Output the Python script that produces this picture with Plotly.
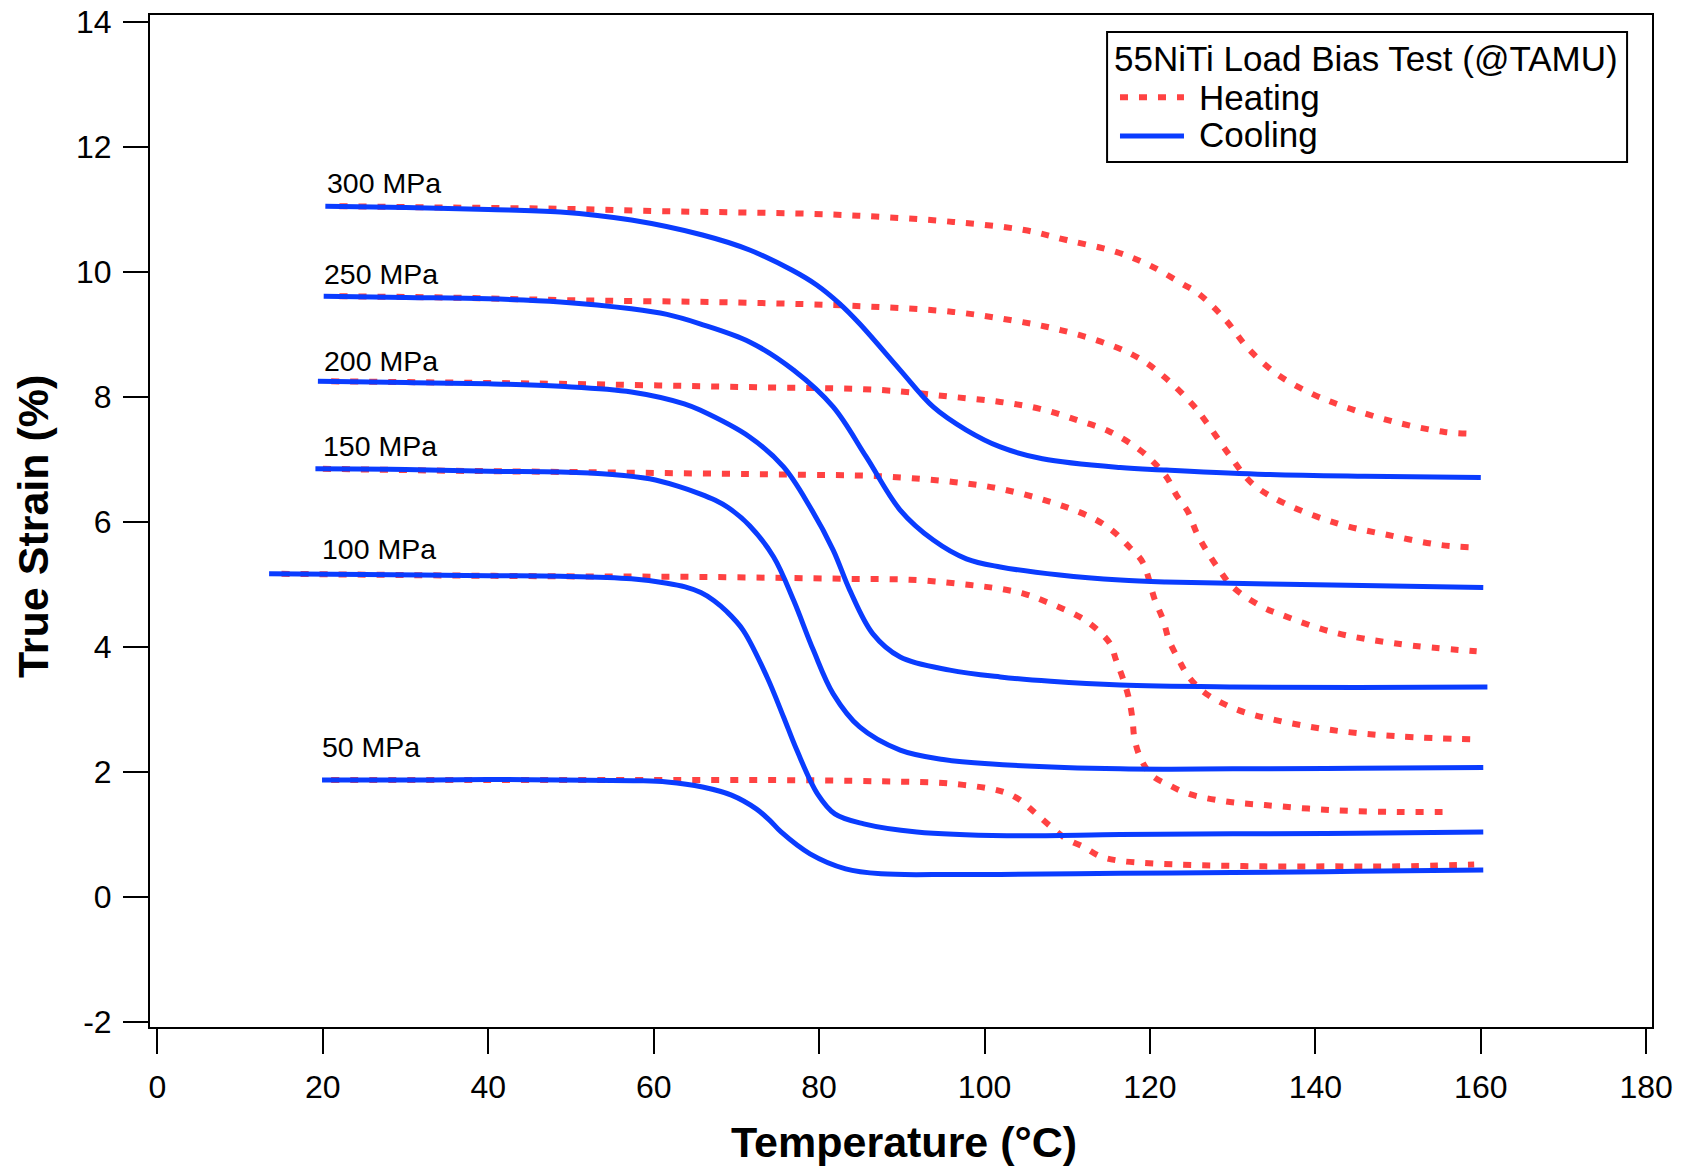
import plotly.graph_objects as go

# ---------------- data ----------------
loads = ["300 MPa", "250 MPa", "200 MPa", "150 MPa", "100 MPa", "50 MPa"]

# Cooling curves (temperature °C, true strain %)
c300_T = [20.3, 30, 40, 48.7, 57.3, 65.9, 71.6, 76.7, 79.7, 82.4, 84.9, 89.8, 93.8, 97.8, 101.9, 107, 116.4, 122, 134, 146, 160]
c300_S = [11.05, 11.03, 11.00, 10.96, 10.83, 10.59, 10.35, 10.03, 9.79, 9.50, 9.17, 8.43, 7.84, 7.47, 7.20, 7.01, 6.87, 6.83, 6.76, 6.73, 6.71]

c250_T = [20.1, 30, 40, 48.7, 57.3, 61.6, 65.6, 71.6, 76.9, 81.7, 85.7, 89.8, 93.8, 97.8, 101.9, 109.1, 116.4, 121.9, 142, 160.3]
c250_S = [9.61, 9.59, 9.57, 9.52, 9.41, 9.32, 9.17, 8.88, 8.43, 7.84, 7.04, 6.19, 5.71, 5.41, 5.28, 5.15, 5.07, 5.04, 4.99, 4.95]

c200_T = [19.4, 30, 40, 48.7, 57.3, 63.7, 65.6, 71.6, 75.7, 78.9, 81.7, 83.7, 86.5, 89.8, 95.8, 101.9, 108, 116.4, 130, 145, 160.8]
c200_S = [8.25, 8.23, 8.21, 8.17, 8.08, 7.89, 7.79, 7.36, 6.88, 6.24, 5.55, 4.91, 4.21, 3.84, 3.63, 3.52, 3.45, 3.39, 3.36, 3.35, 3.36]

c150_T = [19.1, 30, 40, 48.7, 55, 59.5, 63, 65.6, 67.4, 69.0, 71.6, 74.5, 76.9, 79.3, 81.7, 84.9, 89.8, 95, 100.5, 116.4, 130, 145, 160.3]
c150_S = [6.85, 6.84, 6.81, 6.80, 6.76, 6.69, 6.57, 6.45, 6.35, 6.23, 5.94, 5.44, 4.75, 3.95, 3.25, 2.72, 2.35, 2.20, 2.13, 2.05, 2.05, 2.06, 2.07]

c100_T = [13.5, 25, 40, 48.7, 57.3, 61.6, 63.8, 65.7, 67.3, 68.8, 70.8, 73.7, 75.7, 77.3, 79.8, 81.9, 85.4, 91.8, 102.7, 116.4, 130, 145, 160.3]
c100_S = [5.17, 5.16, 5.14, 5.13, 5.09, 5.02, 4.96, 4.87, 4.74, 4.57, 4.27, 3.52, 2.88, 2.35, 1.65, 1.33, 1.17, 1.04, 0.98, 1.00, 1.01, 1.02, 1.04]

c50_T = [19.9, 30, 40, 48.7, 58, 61.6, 65.9, 69.4, 72.4, 74.0, 75.4, 78.9, 83.2, 87.5, 96.2, 101.9, 116.4, 130, 145, 160.3]
c50_S = [1.87, 1.87, 1.88, 1.87, 1.86, 1.84, 1.76, 1.63, 1.41, 1.23, 1.04, 0.69, 0.45, 0.37, 0.36, 0.36, 0.38, 0.39, 0.41, 0.43]

# Heating curves
h300_T = [22, 35, 48.7, 61.6, 78.9, 87.5, 96.2, 104.8, 109.9, 115.9, 119.9, 123.9, 125.9, 129.1, 131.9, 135.5, 139.6, 143.6, 149.6, 155.6, 159.4]
h300_S = [11.05, 11.03, 11.01, 10.97, 10.93, 10.88, 10.80, 10.67, 10.51, 10.32, 10.11, 9.81, 9.65, 9.24, 8.77, 8.35, 8.05, 7.84, 7.60, 7.44, 7.41]

h250_T = [22, 35, 48.7, 70.3, 85.4, 96.2, 103.1, 109.2, 115.2, 118.8, 122.0, 125.2, 126.8, 129.6, 132.4, 136.4, 142.8, 148.8, 155.2, 159.8]
h250_S = [9.61, 9.59, 9.55, 9.51, 9.45, 9.36, 9.23, 9.07, 8.83, 8.61, 8.29, 7.87, 7.60, 7.07, 6.61, 6.29, 5.97, 5.79, 5.63, 5.59]

h200_T = [21, 35, 48.7, 70.3, 87.5, 96.2, 101.9, 106.7, 111.2, 115.2, 118.8, 120.4, 122.0, 123.2, 124.6, 125.6, 126.8, 128.4, 130.0, 133.6, 136, 142, 150, 159.5]
h200_S = [8.25, 8.23, 8.21, 8.16, 8.11, 8.00, 7.92, 7.81, 7.63, 7.44, 7.15, 6.96, 6.72, 6.43, 6.16, 5.84, 5.55, 5.23, 4.96, 4.64, 4.51, 4.24, 4.05, 3.93]

h150_T = [20, 35, 48.7, 74.6, 87.5, 96.2, 101.9, 108.0, 112.3, 114.3, 115.9, 117.5, 119.1, 120.6, 121.6, 122.3, 123.5, 124.7, 126.8, 130.7, 135.2, 142, 150, 159.5]
h150_S = [6.85, 6.82, 6.80, 6.76, 6.73, 6.64, 6.53, 6.32, 6.11, 5.97, 5.81, 5.60, 5.36, 4.75, 4.43, 4.11, 3.79, 3.52, 3.25, 2.99, 2.83, 2.67, 2.57, 2.52]

h100_T = [15, 30, 48.7, 65.9, 83.2, 91.8, 98.3, 101.9, 104.8, 107.5, 111.5, 113.5, 115.2, 115.9, 116.8, 117.5, 117.9, 118.1, 118.8, 120.2, 122.3, 124.7, 129.1, 133.9, 142, 150, 156.5]
h100_S = [5.17, 5.15, 5.13, 5.12, 5.09, 5.07, 4.99, 4.93, 4.85, 4.72, 4.48, 4.29, 4.05, 3.79, 3.47, 3.15, 2.83, 2.56, 2.24, 1.95, 1.79, 1.65, 1.53, 1.47, 1.39, 1.36, 1.36]

h50_T = [21, 40, 60, 74.6, 87.5, 96.2, 102.3, 104.3, 106.0, 107.8, 109.9, 112.0, 114.0, 116.3, 119.9, 125.9, 133.9, 142, 150, 159.2]
h50_S = [1.87, 1.87, 1.87, 1.87, 1.85, 1.81, 1.68, 1.55, 1.36, 1.15, 0.93, 0.80, 0.65, 0.58, 0.54, 0.51, 0.49, 0.49, 0.49, 0.52]

# Label anchor positions (data coordinates)
label_T = [20.3, 19.9, 19.9, 19.8, 19.6, 19.6]
label_S = [11.43, 9.96, 8.58, 7.21, 5.56, 2.40]

x_tickvals = [0, 20, 40, 60, 80, 100, 120, 140, 160, 180]
x_ticktext = ["0", "20", "40", "60", "80", "100", "120", "140", "160", "180"]
y_tickvals = [-2, 0, 2, 4, 6, 8, 10, 12, 14]
y_ticktext = ["-2", "0", "2", "4", "6", "8", "10", "12", "14"]

legend_title = "55NiTi Load Bias Test (@TAMU)"
legend_names = ["Heating", "Cooling"]

# ---------------- styles ----------------
RED = "#ff4242"
BLUE = "#0a3cff"
FONT = "Liberation Sans, Arial, sans-serif"
heat_line = dict(color=RED, width=6, dash="8px,11px", shape="spline", smoothing=1.0)
cool_line = dict(color=BLUE, width=5, shape="spline", smoothing=1.0)

heating = [(h300_T, h300_S), (h250_T, h250_S), (h200_T, h200_S),
           (h150_T, h150_S), (h100_T, h100_S), (h50_T, h50_S)]
cooling = [(c300_T, c300_S), (c250_T, c250_S), (c200_T, c200_S),
           (c150_T, c150_S), (c100_T, c100_S), (c50_T, c50_S)]

fig = go.Figure()
for name, (t, s) in zip(loads, heating):
    fig.add_trace(go.Scatter(x=t, y=s, mode="lines", line=heat_line,
                             name=f"Heating {name}", showlegend=False))
for name, (t, s) in zip(loads, cooling):
    fig.add_trace(go.Scatter(x=t, y=s, mode="lines", line=cool_line,
                             name=f"Cooling {name}", showlegend=False))

annotations = []
for txt, lx, ly in zip(loads, label_T, label_S):
    annotations.append(dict(x=lx, y=ly, xref="x", yref="y", text=txt, showarrow=False,
                            xanchor="left", yanchor="middle",
                            font=dict(family=FONT, size=28.5, color="black")))

# axis titles
annotations.append(dict(x=0.502, y=-0.1136, xref="paper", yref="paper",
                        text="<b>Temperature (°C)</b>", showarrow=False,
                        xanchor="center", yanchor="middle",
                        font=dict(family=FONT, size=43, color="black")))
annotations.append(dict(x=-0.0779, y=0.495, xref="paper", yref="paper",
                        text="<b>True Strain (%)</b>", showarrow=False, textangle=-90,
                        xanchor="center", yanchor="middle",
                        font=dict(family=FONT, size=43, color="black")))

# hand-built legend box
LX0, LX1, LY0, LY1 = 0.6372, 0.9834, 0.8547, 0.9832
shapes = [
    dict(type="rect", xref="paper", yref="paper", x0=LX0, x1=LX1, y0=LY0, y1=LY1,
         line=dict(color="black", width=2), fillcolor="white", layer="above"),
    dict(type="line", xref="paper", yref="paper", x0=0.6458, x1=0.6884, y0=0.9187, y1=0.9187,
         line=dict(color=RED, width=6, dash="8px,11px"), layer="above"),
    dict(type="line", xref="paper", yref="paper", x0=0.6458, x1=0.6884, y0=0.8804, y1=0.8804,
         line=dict(color=BLUE, width=5), layer="above"),
]
annotations.append(dict(x=0.6402, y=0.9575, xref="paper", yref="paper", text=legend_title,
                        showarrow=False, xanchor="left", yanchor="middle",
                        font=dict(family=FONT, size=35, color="black")))
annotations.append(dict(x=0.6968, y=0.9185, xref="paper", yref="paper", text=legend_names[0],
                        showarrow=False, xanchor="left", yanchor="middle",
                        font=dict(family=FONT, size=35, color="black")))
annotations.append(dict(x=0.6968, y=0.8824, xref="paper", yref="paper", text=legend_names[1],
                        showarrow=False, xanchor="left", yanchor="middle",
                        font=dict(family=FONT, size=35, color="black")))

axis_common = dict(showgrid=False, zeroline=False, showline=True, mirror=True,
                   linecolor="black", linewidth=2, ticks="outside", ticklen=25,
                   tickwidth=2, tickcolor="black", automargin=False,
                   tickfont=dict(family=FONT, size=32, color="black"))

fig.update_layout(
    width=1690, height=1168,
    margin=dict(l=150, r=38, t=15, b=141, autoexpand=False),
    paper_bgcolor="white", plot_bgcolor="white",
    xaxis=dict(range=[-0.9, 180.7], tickmode="array", tickvals=x_tickvals,
               ticktext=x_ticktext, ticklabelstandoff=6, **axis_common),
    yaxis=dict(range=[-2.08, 14.11], tickmode="array", tickvals=y_tickvals,
               ticktext=y_ticktext, ticklabelstandoff=5, **axis_common),
    annotations=annotations,
    shapes=shapes,
    showlegend=False,
)

fig.write_html("out.html", config={"displayModeBar": False},
               post_script="document.body.style.margin='0px';")
